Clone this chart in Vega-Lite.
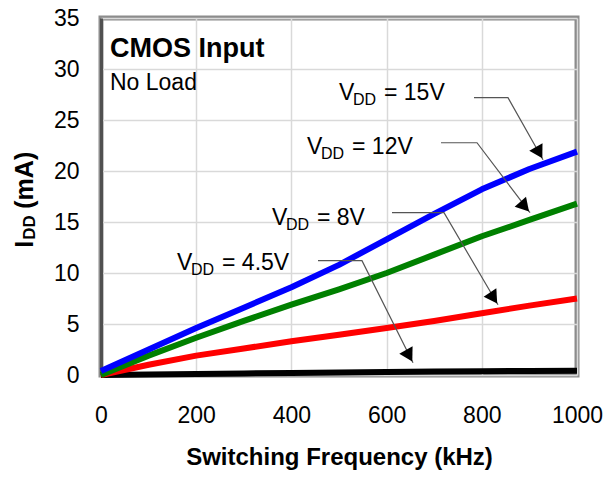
{
  "$schema": "https://vega.github.io/schema/vega-lite/v6.json",
  "autosize": {"type": "none"},
  "padding": {"left": 101, "top": 18, "right": 28, "bottom": 102},
  "width": 476,
  "height": 357,
  "config": {
    "font": "Liberation Sans",
    "view": {"stroke": "#8c8c8c", "strokeWidth": 5},
    "axis": {"labelFont": "Liberation Sans", "titleFont": "Liberation Sans"}
  },
  "datasets": {
    "curves": [
      {"s": "4.5V", "f": 0, "i": 0}, {"s": "4.5V", "f": 100, "i": 0.05}, {"s": "4.5V", "f": 200, "i": 0.1}, {"s": "4.5V", "f": 300, "i": 0.15}, {"s": "4.5V", "f": 400, "i": 0.2}, {"s": "4.5V", "f": 500, "i": 0.25}, {"s": "4.5V", "f": 600, "i": 0.3}, {"s": "4.5V", "f": 700, "i": 0.34}, {"s": "4.5V", "f": 800, "i": 0.37}, {"s": "4.5V", "f": 900, "i": 0.4}, {"s": "4.5V", "f": 1000, "i": 0.42},
      {"s": "8V", "f": 0, "i": 0}, {"s": "8V", "f": 100, "i": 1.0}, {"s": "8V", "f": 200, "i": 1.9}, {"s": "8V", "f": 300, "i": 2.6}, {"s": "8V", "f": 400, "i": 3.3}, {"s": "8V", "f": 500, "i": 3.95}, {"s": "8V", "f": 600, "i": 4.6}, {"s": "8V", "f": 700, "i": 5.3}, {"s": "8V", "f": 800, "i": 6.05}, {"s": "8V", "f": 900, "i": 6.8}, {"s": "8V", "f": 1000, "i": 7.5},
      {"s": "12V", "f": 0, "i": 0}, {"s": "12V", "f": 100, "i": 1.9}, {"s": "12V", "f": 200, "i": 3.65}, {"s": "12V", "f": 300, "i": 5.3}, {"s": "12V", "f": 400, "i": 6.9}, {"s": "12V", "f": 500, "i": 8.4}, {"s": "12V", "f": 600, "i": 10.0}, {"s": "12V", "f": 700, "i": 11.8}, {"s": "12V", "f": 800, "i": 13.6}, {"s": "12V", "f": 900, "i": 15.2}, {"s": "12V", "f": 1000, "i": 16.8},
      {"s": "15V", "f": 0, "i": 0.4}, {"s": "15V", "f": 100, "i": 2.5}, {"s": "15V", "f": 200, "i": 4.6}, {"s": "15V", "f": 300, "i": 6.6}, {"s": "15V", "f": 400, "i": 8.6}, {"s": "15V", "f": 500, "i": 10.8}, {"s": "15V", "f": 600, "i": 13.3}, {"s": "15V", "f": 700, "i": 15.8}, {"s": "15V", "f": 800, "i": 18.2}, {"s": "15V", "f": 900, "i": 20.2}, {"s": "15V", "f": 1000, "i": 21.9}
    ],
    "leaders": [
      {"a": "15V", "o": 0, "f": 783.6, "i": 27.19}, {"a": "15V", "o": 1, "f": 855.0, "i": 27.19}, {"a": "15V", "o": 2, "f": 928.6, "i": 21.11},
      {"a": "12V", "o": 0, "f": 714.3, "i": 22.77}, {"a": "12V", "o": 1, "f": 789.9, "i": 22.77}, {"a": "12V", "o": 2, "f": 901.3, "i": 15.91},
      {"a": "8V", "o": 0, "f": 611.3, "i": 15.91}, {"a": "8V", "o": 1, "f": 720.6, "i": 15.91}, {"a": "8V", "o": 2, "f": 834.0, "i": 6.89},
      {"a": "4.5V", "o": 0, "f": 455.9, "i": 11.21}, {"a": "4.5V", "o": 1, "f": 548.3, "i": 11.21}, {"a": "4.5V", "o": 2, "f": 655.5, "i": 1.21}
    ],
    "heads": [
      {"a": "15V", "f": 920.4, "i": 21.8},
      {"a": "12V", "f": 890.1, "i": 16.5},
      {"a": "8V", "f": 824.8, "i": 7.55},
      {"a": "4.5V", "f": 647.3, "i": 1.89}
    ],
    "labels": [
      {"a": "15V", "f": 500, "i": 26.99, "eq": "= 15V"},
      {"a": "12V", "f": 432.8, "i": 21.7, "eq": "= 12V"},
      {"a": "8V", "f": 359.2, "i": 14.73, "eq": "= 8V"},
      {"a": "4.5V", "f": 159.7, "i": 10.32, "eq": "= 4.5V"}
    ]
  },
  "encoding": {
    "x": {
      "field": "f", "type": "quantitative",
      "scale": {"domain": [0, 1000], "nice": false},
      "axis": {
        "values": [0, 200, 400, 600, 800, 1000], "format": "d",
        "title": "Switching Frequency (kHz)",
        "titleFontSize": 24, "titleFontWeight": "bold", "titleColor": "#000000", "titlePadding": 18,
        "labelFontSize": 23, "labelColor": "#000000", "labelPadding": 29, "ticks": false,
        "domain": false, "gridColor": "#d9d9d9", "gridWidth": 1.5, "labelFlush": false
      }
    },
    "y": {
      "field": "i", "type": "quantitative",
      "scale": {"domain": [0, 35], "nice": false},
      "axis": {
        "values": [0, 5, 10, 15, 20, 25, 30, 35],
        "title": null,
        "labelFontSize": 23, "labelColor": "#000000", "labelPadding": 22, "ticks": false,
        "domain": true, "domainColor": "#505050", "domainWidth": 3,
        "gridColor": "#d9d9d9", "gridWidth": 1.5, "labelFlush": false
      }
    }
  },
  "layer": [
    {
      "data": {"name": "curves"},
      "mark": {"type": "line", "strokeWidth": 6, "strokeJoin": "round"},
      "encoding": {
        "color": {"field": "s", "type": "nominal", "scale": {"domain": ["4.5V", "8V", "12V", "15V"], "range": ["#000000", "#ff0000", "#008000", "#0000ff"]}, "legend": null}
      }
    },
    {
      "data": {"name": "leaders"},
      "mark": {"type": "line", "color": "#555555", "strokeWidth": 1.2},
      "encoding": {"detail": {"field": "a"}, "order": {"field": "o", "type": "quantitative"}}
    },
    {
      "data": {"name": "heads"},
      "transform": [{"filter": "datum.a == '15V'"}],
      "mark": {"type": "point", "shape": "triangle-down", "filled": true, "color": "#000000", "opacity": 1, "size": 230, "angle": -29.4}
    },
    {
      "data": {"name": "heads"},
      "transform": [{"filter": "datum.a == '12V'"}],
      "mark": {"type": "point", "shape": "triangle-down", "filled": true, "color": "#000000", "opacity": 1, "size": 230, "angle": -41.5}
    },
    {
      "data": {"name": "heads"},
      "transform": [{"filter": "datum.a == '8V'"}],
      "mark": {"type": "point", "shape": "triangle-down", "filled": true, "color": "#000000", "opacity": 1, "size": 230, "angle": -33.4}
    },
    {
      "data": {"name": "heads"},
      "transform": [{"filter": "datum.a == '4.5V'"}],
      "mark": {"type": "point", "shape": "triangle-down", "filled": true, "color": "#000000", "opacity": 1, "size": 230, "angle": -29.0}
    },
    {
      "data": {"name": "labels"},
      "mark": {"type": "text", "text": "V", "fontSize": 23, "align": "left", "baseline": "alphabetic", "color": "#000000"}
    },
    {
      "data": {"name": "labels"},
      "mark": {"type": "text", "text": "DD", "fontSize": 16, "align": "left", "baseline": "alphabetic", "dx": 14, "dy": 5, "color": "#000000"}
    },
    {
      "data": {"name": "labels"},
      "mark": {"type": "text", "fontSize": 23, "align": "left", "baseline": "alphabetic", "dx": 45, "color": "#000000"},
      "encoding": {"text": {"field": "eq"}}
    },
    {
      "data": {"values": [{"t": "CMOS Input", "f": 18.9, "i": 31.2}]},
      "mark": {"type": "text", "fontSize": 27, "fontWeight": "bold", "align": "left", "baseline": "alphabetic", "color": "#000000"},
      "encoding": {"text": {"field": "t"}}
    },
    {
      "data": {"values": [{"t": "No Load", "f": 18.9, "i": 27.9}]},
      "mark": {"type": "text", "fontSize": 23, "align": "left", "baseline": "alphabetic", "color": "#000000"},
      "encoding": {"text": {"field": "t"}}
    },
    {
      "data": {"values": [{"f": 0, "i": 12.48}]},
      "mark": {"type": "text", "text": "I", "fontSize": 25, "fontWeight": "bold", "angle": 270, "align": "left", "baseline": "alphabetic", "dy": -68, "color": "#000000"}
    },
    {
      "data": {"values": [{"f": 0, "i": 12.48}]},
      "mark": {"type": "text", "text": "DD", "fontSize": 17, "fontWeight": "bold", "angle": 270, "align": "left", "baseline": "alphabetic", "dx": 8, "dy": -66, "color": "#000000"}
    },
    {
      "data": {"values": [{"f": 0, "i": 12.48}]},
      "mark": {"type": "text", "text": "(mA)", "fontSize": 25, "fontWeight": "bold", "angle": 270, "align": "left", "baseline": "alphabetic", "dx": 39, "dy": -68, "color": "#000000"}
    }
  ]
}
